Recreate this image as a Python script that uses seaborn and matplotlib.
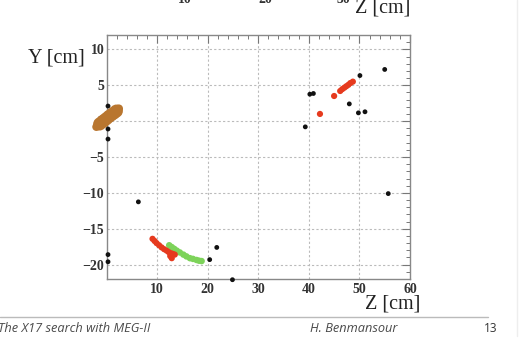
import matplotlib
matplotlib.use("Agg")
import matplotlib.pyplot as plt
import seaborn as sns
import pandas as pd
from matplotlib.ticker import MultipleLocator
from matplotlib.lines import Line2D

# ---- data ----
brown_z = [-1.35, -0.9, -0.45, 0.0, 0.5, 1.0, 1.5, 1.95]
brown_y = [-0.4, -0.15, 0.1, 0.35, 0.65, 0.9, 1.15, 1.4]
brown_tip_z = [-2.0, -1.8, 2.45, 2.3]
brown_tip_y = [-0.8, -0.65, 1.75, 1.65]

black_z = [0.3, -1.2, 0.3, 0.3, 0.3, 0.3, 6.3, 20.4, 21.8, 24.9, 39.3, 40.2, 40.9,
           48.0, 50.1, 49.8, 51.1, 55.0, 55.7]
black_y = [2.1, 0.4, -1.1, -2.5, -18.6, -19.6, -11.25, -19.3, -17.6, -22.1, -0.8, 3.75, 3.85,
           2.4, 6.35, 1.15, 1.3, 7.2, -10.1]

red_z = [42.2, 45.0, 46.2, 46.6, 47.0, 47.4, 47.8, 48.2, 48.7,
         9.1, 9.5, 9.9, 10.4, 10.9, 11.4, 11.9, 12.3, 12.7, 13.1, 13.5, 12.9, 12.6]
red_y = [1.0, 3.5, 4.2, 4.45, 4.65, 4.85, 5.05, 5.3, 5.5,
         -16.4, -16.7, -17.0, -17.3, -17.6, -17.85, -18.05, -18.25, -18.4, -18.5, -18.6, -19.1, -18.8]

green_z = [12.4, 12.9, 13.4, 13.9, 14.5, 15.2, 15.8, 16.5, 17.1, 17.8, 18.3, 18.8]
green_y = [-17.3, -17.55, -17.8, -18.05, -18.3, -18.6, -18.85, -19.1, -19.2, -19.35, -19.45, -19.5]

x_ticks = [10, 20, 30, 40, 50, 60]
y_ticks = [10, 5, 0, -5, -10, -15, -20]
top_tick_labels = ["10", "20", "30"]

# ---- figure ----
sns.set_style("white")
plt.rcParams["font.family"] = ["Liberation Serif", "DejaVu Serif"]

fig = plt.figure(figsize=(5.21, 3.54), dpi=100)
ax = fig.add_axes([107/521, 1-279/354, (410-107)/521, (279-35)/354])

df_brown = pd.DataFrame({"z": brown_z, "y": brown_y})
df_brown_tip = pd.DataFrame({"z": brown_tip_z, "y": brown_tip_y})
df_black = pd.DataFrame({"z": black_z, "y": black_y})
df_red = pd.DataFrame({"z": red_z, "y": red_y})
df_green = pd.DataFrame({"z": green_z, "y": green_y})

sns.scatterplot(data=df_green, x="z", y="y", ax=ax, color="#7dd35a", s=22,
                edgecolor="none", zorder=3)
sns.scatterplot(data=df_red, x="z", y="y", ax=ax, color="#e63a1e", s=20,
                edgecolor="none", zorder=4)
sns.scatterplot(data=df_black, x="z", y="y", ax=ax, color="#111111", s=12,
                edgecolor="none", zorder=5, clip_on=False)
sns.scatterplot(data=df_brown, x="z", y="y", ax=ax, color="#b9762f", s=88,
                edgecolor="none", zorder=6, clip_on=False)
sns.scatterplot(data=df_brown_tip, x="z", y="y", ax=ax, color="#b9762f", s=35,
                edgecolor="none", zorder=6, clip_on=False)

ax.set_xlim(0.1, 60)
ax.set_ylim(-22, 12)
ax.set_xticks(x_ticks)
ax.set_yticks(y_ticks)
ax.set_xticklabels([str(t) for t in x_ticks])
ax.set_yticklabels([str(t).replace("-", "\u2212") for t in y_ticks])
ax.xaxis.set_minor_locator(MultipleLocator(2))
ax.yaxis.set_minor_locator(MultipleLocator(1))
ax.set_xlabel("")
ax.set_ylabel("")

ax.tick_params(which="both", direction="in", top=True, right=True, color="#777777")
ax.tick_params(which="major", length=6, width=0.8, labelsize=10, pad=3)
ax.tick_params(which="minor", length=3, width=0.7)
for lab in ax.get_xticklabels() + ax.get_yticklabels():
    lab.set_fontweight("bold")
    lab.set_color("#333333")
ax.tick_params(axis="y", pad=2)

ax.grid(True, which="major", linestyle=(0, (2, 2)), color="#bbbbbb", linewidth=0.8)
for sp in ax.spines.values():
    sp.set_color("#888888")
    sp.set_linewidth(1.0)

# axis titles
fig.text(28/521, 1-62/354, "Y [cm]", fontsize=14.5, color="#222222", ha="left", va="baseline")
fig.text(420/521, 1-309/354, "Z [cm]", fontsize=14.5, color="#222222", ha="right", va="baseline")

# remnants of the plot above (cut off at the top edge, as in the slide)
for lbl, px in zip(top_tick_labels, [185, 265, 343]):
    fig.text(px/521, 1-3/354, lbl, fontsize=10, fontweight="bold", color="#333333",
             ha="center", va="baseline")
fig.text(410/521, 1-13/354, "Z [cm]", fontsize=14.5, color="#222222", ha="right", va="baseline")

# slide footer
fig.add_artist(Line2D([0, 488/521], [1-317/354, 1-317/354], color="#bbbbbb", lw=1.0))
fig.text(-2/521, 1-332/354, "The X17 search with MEG-II", fontsize=9.2, style="italic",
         family=["Open Sans", "DejaVu Sans"], color="#4a4a4a", ha="left", va="baseline")
fig.text(310/521, 1-332/354, "H. Benmansour", fontsize=9.2, style="italic",
         family=["Open Sans", "DejaVu Sans"], color="#4a4a4a", ha="left", va="baseline")
fig.text(497/521, 1-332/354, "13", fontsize=8.5, family=["Open Sans", "DejaVu Sans"],
         color="#333333", ha="right", va="baseline")
fig.add_artist(Line2D([517/521, 517/521], [0.05, 1], color="#eeeeee", lw=1.0))

fig.savefig("out.png", dpi=100)
